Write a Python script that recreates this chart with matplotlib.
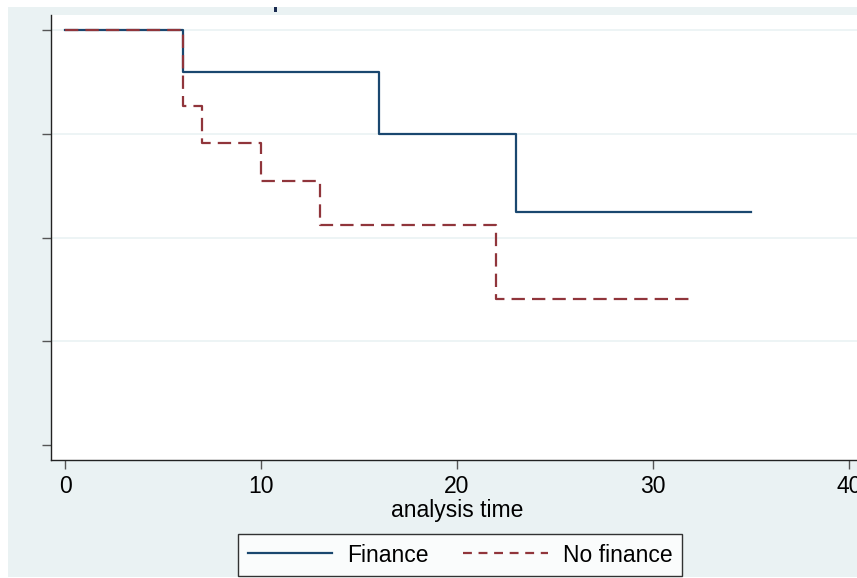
import matplotlib
matplotlib.use("Agg")
import matplotlib.pyplot as plt
from matplotlib.patches import Rectangle
from matplotlib.lines import Line2D

# Data (Kaplan-Meier survival estimates)
fin_time = [0, 6, 16, 23, 35]
fin_surv = [1.0, 0.9, 0.75, 0.5625, 0.5625]
nof_time = [0, 6, 7, 10, 13, 22, 32]
nof_surv = [1.0, 0.818, 0.727, 0.636, 0.530, 0.353, 0.353]
x_ticks = [0, 10, 20, 30, 40]
y_ticks = [0, 0.25, 0.5, 0.75, 1.0]
series_labels = ["Finance", "No finance"]

W, H = 857, 578
BG = "#EAF2F3"
NAVY = "#1A476F"
MAROON = "#90353B"
FS = 16.5

plt.rcParams['font.family'] = ['Liberation Sans', 'DejaVu Sans']

fig = plt.figure(figsize=(W / 100, H / 100), dpi=100, facecolor="white")
# outer graph region
fig.patches.append(Rectangle((8 / W, 1 - 577 / H), (W - 8) / W, (577 - 7) / H,
                             transform=fig.transFigure, facecolor=BG,
                             edgecolor="none", zorder=-10))
# fragment of cropped title
fig.patches.append(Rectangle((274 / W, 1 - 12 / H), 3 / W, 5 / H,
                             transform=fig.transFigure, facecolor="#1A2A50",
                             edgecolor="none"))

# axes geometry in pixels
x0px, x10px = 65, 261
ppu = (x10px - x0px) / 10.0
left_px, right_px = 51, 890
xmin = (left_px - x0px) / ppu
xmax = (right_px - x0px) / ppu
y1px, y0px = 30, 445
ppy = (y0px - y1px)
top_px, bot_px = 15, 460
ymax = 1 + (y1px - top_px) / ppy
ymin = -(bot_px - y0px) / ppy

ax = fig.add_axes([left_px / W, 1 - bot_px / H, (right_px - left_px) / W,
                   (bot_px - top_px) / H])
ax.set_facecolor("white")
ax.set_xlim(xmin, xmax)
ax.set_ylim(ymin, ymax)

for yv in y_ticks[1:]:
    ax.axhline(yv, color=BG, lw=1.2, zorder=0)

ax.step(fin_time, fin_surv, where="post", color=NAVY, lw=1.6,
        label=series_labels[0], zorder=3)
ax.step(nof_time, nof_surv, where="post", color=MAROON, lw=1.6,
        linestyle=(0, (6.0, 3.2)), label=series_labels[1], zorder=4)

ax.set_xticks(x_ticks)
ax.set_yticks(y_ticks)
ax.tick_params(axis="both", direction="out", length=6.5, width=1,
               color="#555555", labelsize=FS, pad=4.5)
ax.tick_params(axis="y", labelleft=False)
for s in ["top", "right"]:
    ax.spines[s].set_visible(False)
for s in ["left", "bottom"]:
    ax.spines[s].set_color("#222222")
    ax.spines[s].set_linewidth(1)

ax.set_xlabel("analysis time", fontsize=FS, va="baseline")
ax.xaxis.set_label_coords((457 - left_px) / (right_px - left_px),
                          -(517 - bot_px) / (bot_px - top_px))

handles = [Line2D([], [], color=NAVY, lw=1.6),
           Line2D([], [], color=MAROON, lw=1.6, linestyle=(0, (4.0, 3.0)))]
leg = fig.legend(handles, series_labels, loc="center",
                 bbox_to_anchor=(460 / W, 1 - 555 / H), ncol=2,
                 fontsize=FS, frameon=True, fancybox=False,
                 edgecolor="black", handlelength=3.7, handletextpad=0.65,
                 columnspacing=1.5, borderpad=0.4, borderaxespad=0)
leg.get_frame().set_linewidth(1)
leg.get_frame().set_facecolor("white")

fig.savefig("out.png", dpi=100, facecolor="white")
